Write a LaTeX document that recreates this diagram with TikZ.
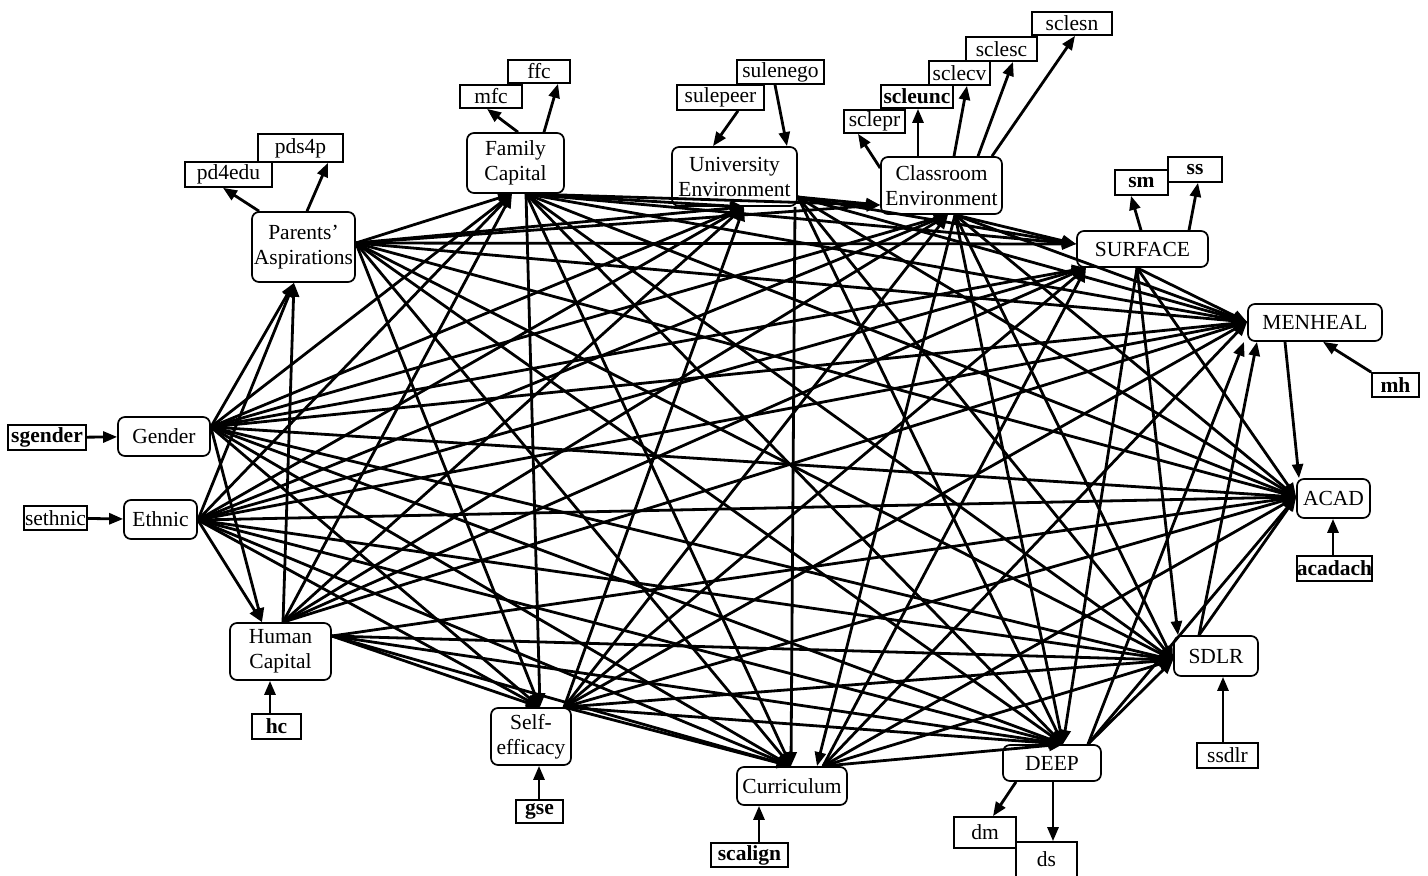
\documentclass[tikz,border=0pt]{standalone}
\usepackage{fontspec}
\setmainfont{Liberation Serif}
\usetikzlibrary{arrows.meta}
\begin{document}
\begin{tikzpicture}[x=1pt,y=-1pt,
 lat/.style={draw,line width=1.7pt,rounded corners=7pt,fill=white,inner sep=0pt,align=center,font=\fontsize{21.5}{25}\selectfont},
 obs/.style={draw,line width=1.7pt,fill=white,inner sep=0pt,font=\fontsize{21.5}{25}\selectfont},
 obsb/.style={obs,font=\fontsize{21.5}{25}\selectfont\bfseries},
 arr/.style={line width=2.8pt,-{Triangle[length=14pt,width=11pt]}},
]
\useasboundingbox (0,0) rectangle (1428,876);
% latent variables
\node[lat,minimum width=92pt,minimum height=39pt] (gender) at (164,436.5) {Gender};
\node[lat,minimum width=73pt,minimum height=39pt] (ethnic) at (160.5,519.5) {Ethnic};
\node[lat,minimum width=101pt,minimum height=57pt] (hcap) at (280.5,651.5) {Human\\Capital};
\node[lat,minimum width=103pt,minimum height=70pt] (pa) at (303.5,247) {Parents'\\Aspirations};
\node[lat,minimum width=97pt,minimum height=60pt] (fcap) at (515.5,163) {Family\\Capital};
\node[lat,minimum width=125pt,minimum height=59pt] (ue) at (734.5,176.5) {University\\Environment};
\node[lat,minimum width=121pt,minimum height=57pt] (ce) at (941.5,185.5) {Classroom\\Environment};
\node[lat,minimum width=131pt,minimum height=36pt] (surf) at (1142.5,249) {SURFACE};
\node[lat,minimum width=134pt,minimum height=37pt] (menh) at (1315,322.5) {MENHEAL};
\node[lat,minimum width=73pt,minimum height=39pt] (acad) at (1333.5,498.5) {ACAD};
\node[lat,minimum width=84pt,minimum height=40pt] (sdlr) at (1216,656) {SDLR};
\node[lat,minimum width=98pt,minimum height=36pt] (deep) at (1052,763) {DEEP};
\node[lat,minimum width=110pt,minimum height=38pt] (curr) at (792,786) {Curriculum};
\node[lat,minimum width=80pt,minimum height=57pt] (seff) at (531,736.5) {Self-\\efficacy};
% observed variables
\node[obsb,minimum width=78pt,minimum height=25pt] (sgender) at (47,437.5) {sgender};
\node[obs,minimum width=63pt,minimum height=24pt] (sethnic) at (55.5,518) {sethnic};
\node[obs,minimum width=87pt,minimum height=25pt] (pd4edu) at (228.5,174.5) {pd4edu};
\node[obs,minimum width=85pt,minimum height=28pt] (pds4p) at (300.5,148) {pds4p};
\node[obs,minimum width=62pt,minimum height=23pt] (mfc) at (491,96.5) {mfc};
\node[obs,minimum width=62pt,minimum height=23pt] (ffc) at (539,71.5) {ffc};
\node[obs,minimum width=87pt,minimum height=25pt] (sulepeer) at (720.5,97.5) {sulepeer};
\node[obs,minimum width=87pt,minimum height=24pt] (sulenego) at (780.5,72) {sulenego};
\node[obs,minimum width=61pt,minimum height=23pt] (sclepr) at (874.5,121.5) {sclepr};
\node[obsb,minimum width=72pt,minimum height=23pt] (scleunc) at (917,96.5) {scleunc};
\node[obs,minimum width=61pt,minimum height=24pt] (sclecv) at (959.5,73) {sclecv};
\node[obs,minimum width=71pt,minimum height=24pt] (sclesc) at (1001.5,49) {sclesc};
\node[obs,minimum width=80pt,minimum height=23pt] (sclesn) at (1072,23.5) {sclesn};
\node[obsb,minimum width=53pt,minimum height=25pt] (sm) at (1141.5,182.5) {sm};
\node[obsb,minimum width=54pt,minimum height=25pt] (ss) at (1195,169.5) {ss};
\node[obsb,minimum width=47pt,minimum height=24pt] (mhobs) at (1395.5,385) {mh};
\node[obsb,minimum width=75pt,minimum height=25pt] (acadach) at (1334.5,568.5) {acadach};
\node[obs,minimum width=61pt,minimum height=25pt] (ssdlr) at (1227.5,755.5) {ssdlr};
\node[obs,minimum width=62pt,minimum height=31pt] (dm) at (985,832.5) {dm};
\node[obs,minimum width=61pt,minimum height=42pt,text depth=0pt] (ds) at (1046.5,863) {\raisebox{8pt}{ds}};
\node[obsb,minimum width=77pt,minimum height=24pt] (scalign) at (749.5,855) {scalign};
\node[obsb,minimum width=47pt,minimum height=23pt] (gse) at (539.5,811.5) {gse};
\node[obsb,minimum width=49pt,minimum height=25pt] (hcobs) at (276.5,726.5) {hc};
% ports
\coordinate (g-o) at (gender.east |- 0,427);
\coordinate (e-o) at (ethnic.east |- 0,520);
\coordinate (h-ou) at (hcap.north -| 283,0);
\coordinate (h-or) at (hcap.east |- 0,636);
\coordinate (h-i) at (hcap.north -| 262,0);
\coordinate (pa-o) at (pa.east |- 0,243);
\coordinate (pa-i) at (pa.south -| 294,0);
\coordinate (fc-o) at (fcap.south -| 526,0);
\coordinate (fc-i) at (fcap.south -| 512,0);
\coordinate (se-o) at (seff.north -| 564,0);
\coordinate (se-i) at (seff.north -| 540,0);
\coordinate (ue-o) at (ue.east |- 0,197);
\coordinate (ue-od) at (ue.south -| 795,0);
\coordinate (ue-i) at (ue.south -| 744,0);
\coordinate (ce-o) at (ce.south -| 955,0);
\coordinate (ce-i) at (ce.south -| 948,0);
\coordinate (ce-il) at (ce.west |- 0,205);
\coordinate (cu-o) at (curr.north -| 823,0);
\coordinate (cu-i) at (curr.north -| 791,0);
\coordinate (cu-ir) at (curr.north -| 817,0);
\coordinate (su-o) at (surf.south -| 1137,0);
\coordinate (su-i) at (surf.south -| 1086,0);
\coordinate (su-il) at (surf.west |- 0,244);
\coordinate (de-o) at (deep.north -| 1088,0);
\coordinate (de-i) at (deep.north -| 1063,0);
\coordinate (sd-o) at (sdlr.north -| 1199,0);
\coordinate (sd-i) at (sdlr.west |- 0,660);
\coordinate (sd-it) at (sdlr.north -| 1178,0);
\coordinate (mn-o) at (menh.south -| 1285,0);
\coordinate (mn-i) at (menh.west |- 0,322);
\coordinate (mn-ib1) at (menh.south -| 1244,0);
\coordinate (mn-ib2) at (menh.south -| 1257,0);
\coordinate (ac-i) at (acad.west |- 0,497);
\coordinate (ac-it) at (acad.north -| 1299,0);
% structural paths
\foreach \a/\b in {
 g-o/h-i, g-o/pa-i, g-o/fc-i, g-o/se-i, g-o/ue-i, g-o/ce-i, g-o/cu-i, g-o/su-i, g-o/de-i, g-o/sd-i, g-o/mn-i, g-o/ac-i,
 e-o/h-i, e-o/pa-i, e-o/fc-i, e-o/se-i, e-o/ue-i, e-o/ce-i, e-o/cu-i, e-o/su-i, e-o/de-i, e-o/sd-i, e-o/mn-i, e-o/ac-i,
 h-ou/pa-i, h-ou/fc-i, h-ou/ue-i, h-ou/ce-i, h-ou/su-i, h-ou/mn-i, h-or/se-i, h-or/cu-i, h-or/de-i, h-or/sd-i, h-or/ac-i,
 pa-o/fc-i, pa-o/se-i, pa-o/ue-i, pa-o/ce-il, pa-o/cu-i, pa-o/su-il, pa-o/de-i, pa-o/sd-i, pa-o/mn-i, pa-o/ac-i,
 fc-o/se-i, fc-o/ue-i, fc-o/ce-il, fc-o/cu-i, fc-o/su-il, fc-o/de-i, fc-o/sd-i, fc-o/mn-i, fc-o/ac-i,
 se-o/ue-i, se-o/ce-i, se-o/cu-i, se-o/su-i, se-o/de-i, se-o/sd-i, se-o/mn-i, se-o/ac-i,
 ue-o/ce-il, ue-od/cu-i, ue-o/su-il, ue-o/de-i, ue-o/sd-i, ue-o/mn-i, ue-o/ac-i,
 ce-o/cu-ir, ce-o/su-il, ce-o/de-i, ce-o/sd-i, ce-o/mn-i, ce-o/ac-i,
 cu-o/su-i, cu-o/de-i, cu-o/sd-i, cu-o/mn-i, cu-o/ac-i,
 su-o/de-i, su-o/sd-it, su-o/mn-i, su-o/ac-i,
 de-o/sd-i, de-o/mn-ib1, de-o/ac-i,
 sd-o/mn-ib2, sd-o/ac-i,
 mn-o/ac-it}
 \draw[arr] (\a) -- (\b);
% measurement paths
\draw[arr] (sgender) -- (gender);
\draw[arr] (sethnic) -- (ethnic);
\draw[arr] (hcobs.north -| 270,0) -- (hcap.south -| 270,0);
\draw[arr] (gse.north -| 539,0) -- (seff.south -| 539,0);
\draw[arr] (scalign.north -| 759,0) -- (curr.south -| 759,0);
\draw[arr] (ssdlr.north -| 1223,0) -- (sdlr.south -| 1223,0);
\draw[arr] (acadach.north -| 1333,0) -- (acad.south -| 1333,0);
\draw[arr] (mhobs.north west) -- (menh.south -| 1323,0);
\draw[arr] (deep.south -| 1016,0) -- (dm.north -| 993,0);
\draw[arr] (deep.south -| 1053,0) -- (ds.north -| 1053,0);
\draw[arr] (surf.north -| 1141,0) -- (sm.south -| 1131,0);
\draw[arr] (surf.north -| 1189,0) -- (ss.south -| 1198,0);
\draw[arr] (ce.west |- 0,168) -- (sclepr.south -| 858,0);
\draw[arr] (ce.north -| 918,0) -- (scleunc.south -| 918,0);
\draw[arr] (ce.north -| 954,0) -- (sclecv.south -| 967,0);
\draw[arr] (ce.north -| 978,0) -- (sclesc.south -| 1013,0);
\draw[arr] (ce.north -| 992,0) -- (sclesn.south -| 1075,0);
\draw[arr] (sulepeer.south -| 738,0) -- (ue.north -| 713,0);
\draw[arr] (sulenego.south -| 775,0) -- (ue.north -| 787,0);
\draw[arr] (fcap.north -| 518,0) -- (mfc.south -| 487,0);
\draw[arr] (fcap.north -| 544,0) -- (ffc.south -| 558,0);
\draw[arr] (pa.north -| 259,0) -- (pd4edu.south -| 223,0);
\draw[arr] (pa.north -| 307,0) -- (pds4p.south -| 328,0);
\end{tikzpicture}
\end{document}
